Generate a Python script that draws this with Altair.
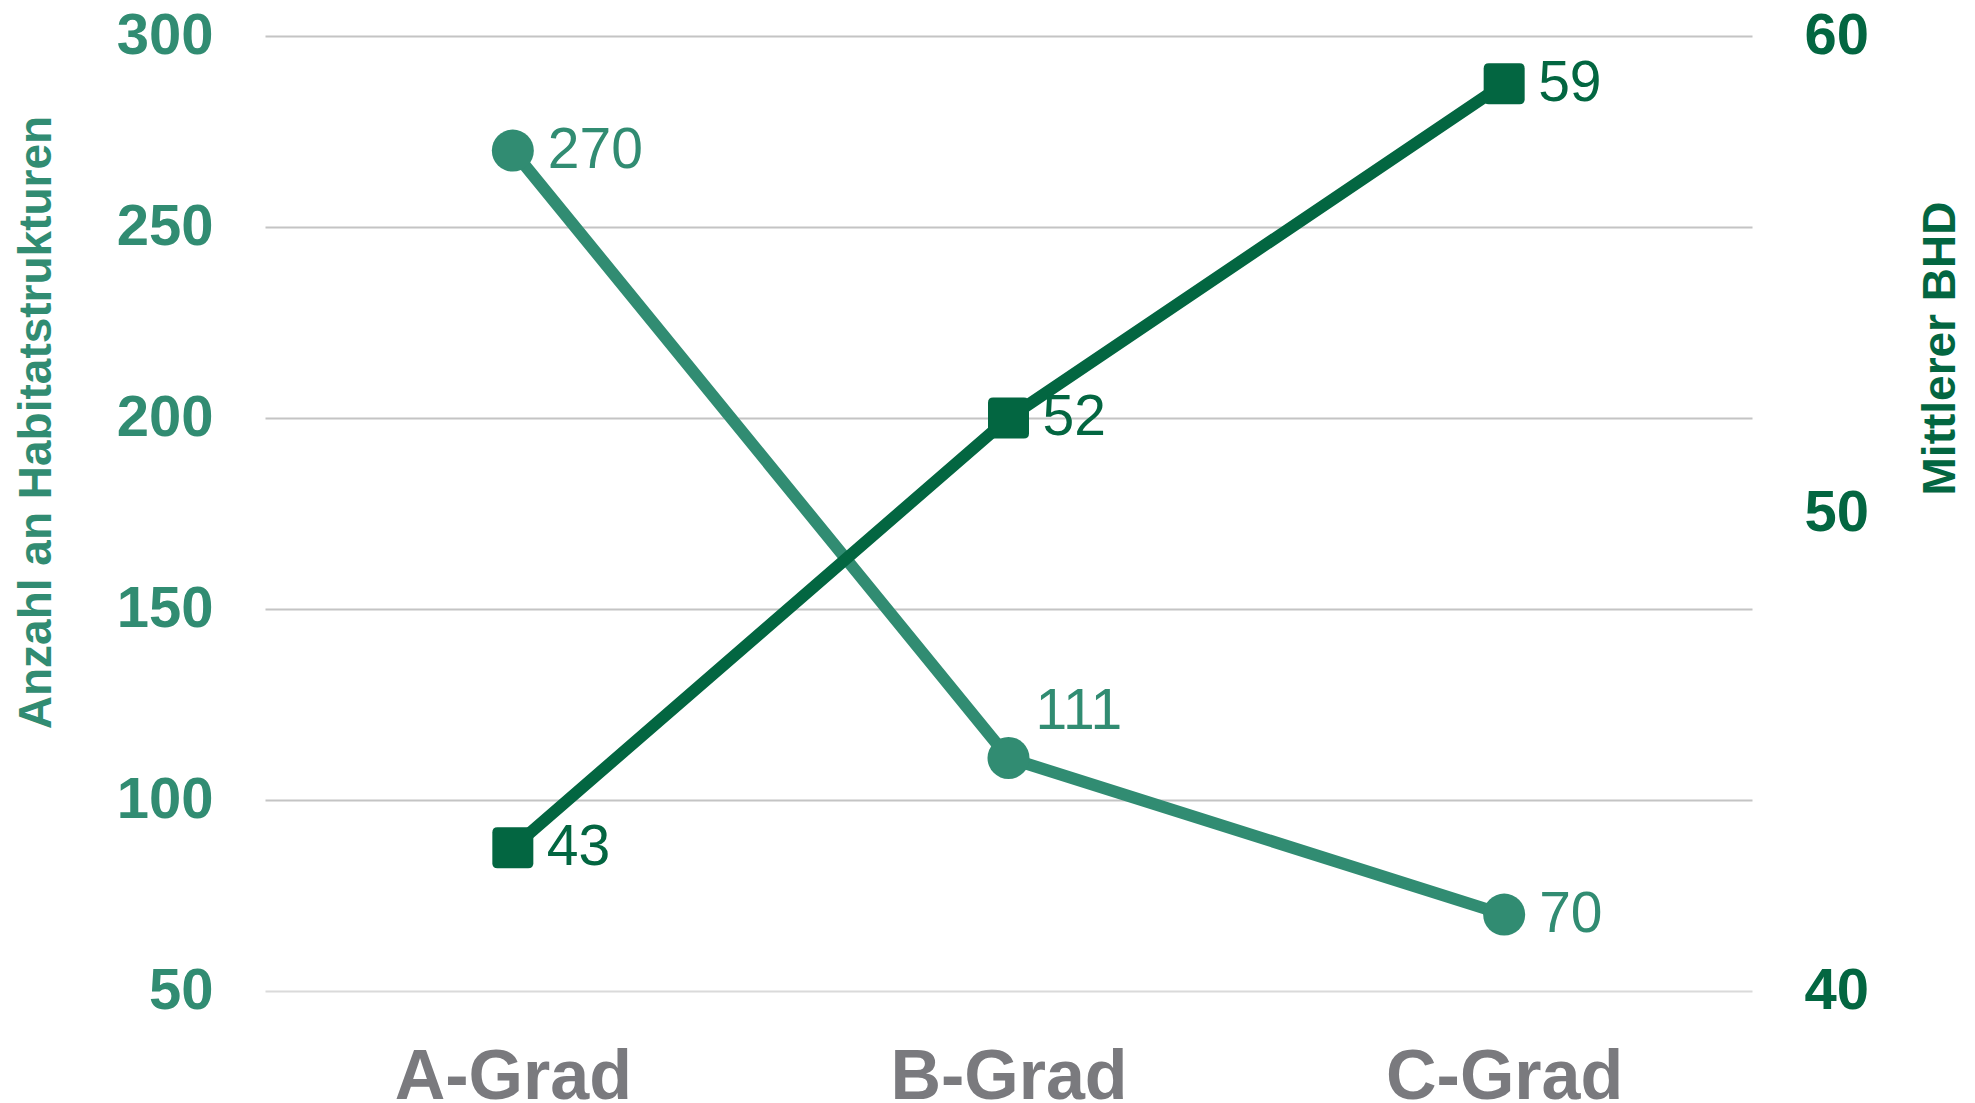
import altair as alt
import pandas as pd

# Chart values
grades = ["A-Grad", "B-Grad", "C-Grad"]
habitat_counts = [270, 111, 70]
mean_dbh = [43, 52, 59]
count_ticks = [50, 100, 150, 200, 250, 300]
dbh_ticks = [40, 50, 60]

TEAL = "#318C72"
DARK = "#036641"
GREY = "#7A7A7E"
GRID = "#C4C4C4"
FONT = "Liberation Sans"

# Rounded square in the unit box used for custom symbol paths
ROUNDED_SQUARE = (
    "M -1 -0.75 Q -1 -1 -0.75 -1 L 0.75 -1 Q 1 -1 1 -0.75 L 1 0.75 "
    "Q 1 1 0.75 1 L -0.75 1 Q -1 1 -1 0.75 Z"
)

df = pd.DataFrame({"grade": grades, "count": habitat_counts, "bhd": mean_dbh})

x_enc = alt.X(
    "grade:N",
    sort=grades,
    scale=alt.Scale(type="point", padding=0.5),
    axis=alt.Axis(
        title=None,
        labelFont=FONT,
        labelFontSize=70,
        labelFontWeight="bold",
        labelColor=GREY,
        labelAngle=0,
        labelPadding=52,
        labelLimit=0,
        ticks=False,
        domain=False,
        grid=False,
    ),
)

y_count = alt.Y(
    "count:Q",
    scale=alt.Scale(domain=[50, 300], nice=False, zero=False),
    axis=alt.Axis(
        title="Anzahl an Habitatstrukturen",
        values=count_ticks,
        orient="left",
        labelFont=FONT,
        labelFontSize=58,
        labelFontWeight="bold",
        labelColor=TEAL,
        labelPadding=52,
        ticks=False,
        domain=False,
        grid=True,
        gridColor={"condition": {"test": "datum.value === 50", "value": "#DADADA"}, "value": GRID},
        gridWidth=2,
        titleFont=FONT,
        titleFontSize=46,
        titleFontWeight="bold",
        titleColor=TEAL,
        titleAngle=270,
        titleAlign="center",
        titleBaseline="middle",
        titleX=-229,
        titleY=386,
    ),
)

y_dbh = alt.Y(
    "bhd:Q",
    scale=alt.Scale(domain=[40, 60], nice=False, zero=False),
    axis=alt.Axis(
        title="Mittlerer BHD",
        values=dbh_ticks,
        orient="right",
        labelFont=FONT,
        labelFontSize=58,
        labelFontWeight="bold",
        labelColor=DARK,
        labelPadding=52,
        ticks=False,
        domain=False,
        grid=False,
        titleFont=FONT,
        titleFontSize=46,
        titleFontWeight="bold",
        titleColor=DARK,
        titleAngle=270,
        titleAlign="center",
        titleBaseline="middle",
        titleX=188,
        titleY=312,
    ),
)

base = alt.Chart(df).encode(x=x_enc)

# Habitat structure counts: circles
count_line = base.mark_line(color=TEAL, strokeWidth=12).encode(y=y_count)
count_pts = base.mark_point(
    shape="circle", filled=True, size=1764, color=TEAL, opacity=1
).encode(y=y_count)
count_lbl = (
    base.transform_filter(alt.datum.grade != "B-Grad")
    .mark_text(align="left", baseline="middle", dx=35, font=FONT, fontSize=57, color=TEAL)
    .encode(y=y_count, text="count:Q")
)
count_lbl_b = (
    base.transform_filter(alt.datum.grade == "B-Grad")
    .mark_text(align="left", baseline="middle", dx=27, dy=-46, font=FONT, fontSize=57, color=TEAL)
    .encode(y=y_count, text="count:Q")
)
count_layer = alt.layer(count_line, count_pts, count_lbl, count_lbl_b)

# Mean diameter at breast height: rounded squares
dbh_line = base.mark_line(color=DARK, strokeWidth=12).encode(y=y_dbh)
dbh_pts = base.mark_point(
    shape=ROUNDED_SQUARE, filled=True, size=1681, color=DARK, opacity=1
).encode(y=y_dbh)
dbh_lbl = base.mark_text(
    align="left", baseline="middle", dx=34, font=FONT, fontSize=57, color=DARK
).encode(y=y_dbh, text="bhd:Q")
dbh_layer = alt.layer(dbh_line, dbh_pts, dbh_lbl)

chart = (
    alt.layer(count_layer, dbh_layer)
    .resolve_scale(y="independent")
    .properties(
        width=1487,
        height=955,
        autosize=alt.AutoSizeParams(type="none"),
        padding={"left": 265, "top": 36, "right": 223, "bottom": 112},
        background="white",
    )
    .configure_view(stroke=None)
)

chart.save("out.html", embed_options={"renderer": "svg", "actions": False})
